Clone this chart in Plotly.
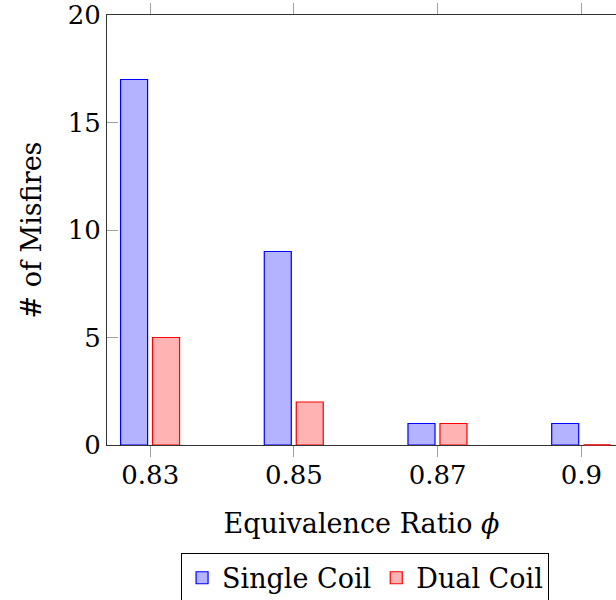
import plotly.graph_objects as go

# Misfire counts per equivalence ratio
ratios = ["0.83", "0.85", "0.87", "0.9"]
single_coil = [17, 9, 1, 1]
dual_coil = [5, 2, 1, 0]
y_ticks = [0, 5, 10, 15, 20]

FONT = "DejaVu Serif"
BAR_W = 0.188
OFF_SINGLE = -0.2065
OFF_DUAL = 0.016

fig = go.Figure()
fig.add_trace(go.Bar(
    x=ratios, y=single_coil, name="Single Coil",
    offset=OFF_SINGLE, width=BAR_W,
    marker=dict(color="#b3b3ff", line=dict(color="#0000ff", width=1.2)),
))
fig.add_trace(go.Bar(
    x=ratios, y=dual_coil, name="Dual Coil",
    offset=OFF_DUAL, width=BAR_W,
    marker=dict(color="#ffb3b3", line=dict(color="#ff0000", width=1.2)),
))

# zero-height bars still show their outline along the baseline
for i, v in enumerate(dual_coil):
    if v == 0:
        fig.add_shape(type="line", xref="x", yref="paper",
                      x0=i + OFF_DUAL, x1=i + OFF_DUAL + BAR_W, y0=0, y1=0,
                      line=dict(color="#e02020", width=1.5), layer="above")

fig.update_layout(
    width=616, height=600,
    margin=dict(l=107, r=0, t=15, b=155, autoexpand=False),
    paper_bgcolor="white", plot_bgcolor="white",
    barmode="overlay",
    font=dict(family=FONT, size=26, color="black"),
    showlegend=True,
    legend=dict(
        orientation="h", x=0.507, xanchor="center", y=-0.2505, yanchor="top",
        bordercolor="black", borderwidth=1, bgcolor="white",
        font=dict(family=FONT, size=27), itemwidth=30,
    ),
    xaxis=dict(
        type="category", range=[-0.301, 3.241],
        showline=True, linecolor="#333333", linewidth=1, mirror="ticks",
        ticks="outside", ticklen=11, tickcolor="#a0a0a0", tickwidth=1,
        showgrid=False, zeroline=False, layer="below traces",
        tickfont=dict(family=FONT, size=26), ticklabelstandoff=-4,
        title=dict(text="Equivalence Ratio <i>ϕ</i>", standoff=24,
                   font=dict(family=FONT, size=27)),
    ),
    yaxis=dict(
        range=[0, 20], tickvals=y_ticks, ticklabeloverflow="allow",
        showline=True, linecolor="#333333", linewidth=1, mirror=False,
        ticks="inside", ticklen=11, tickcolor="#a0a0a0", tickwidth=1,
        showgrid=False, zeroline=False,
        tickfont=dict(family=FONT, size=26),
        title=dict(text="# of Misfires", standoff=18,
                   font=dict(family=FONT, size=27)),
    ),
)

fig.write_html("out.html")
